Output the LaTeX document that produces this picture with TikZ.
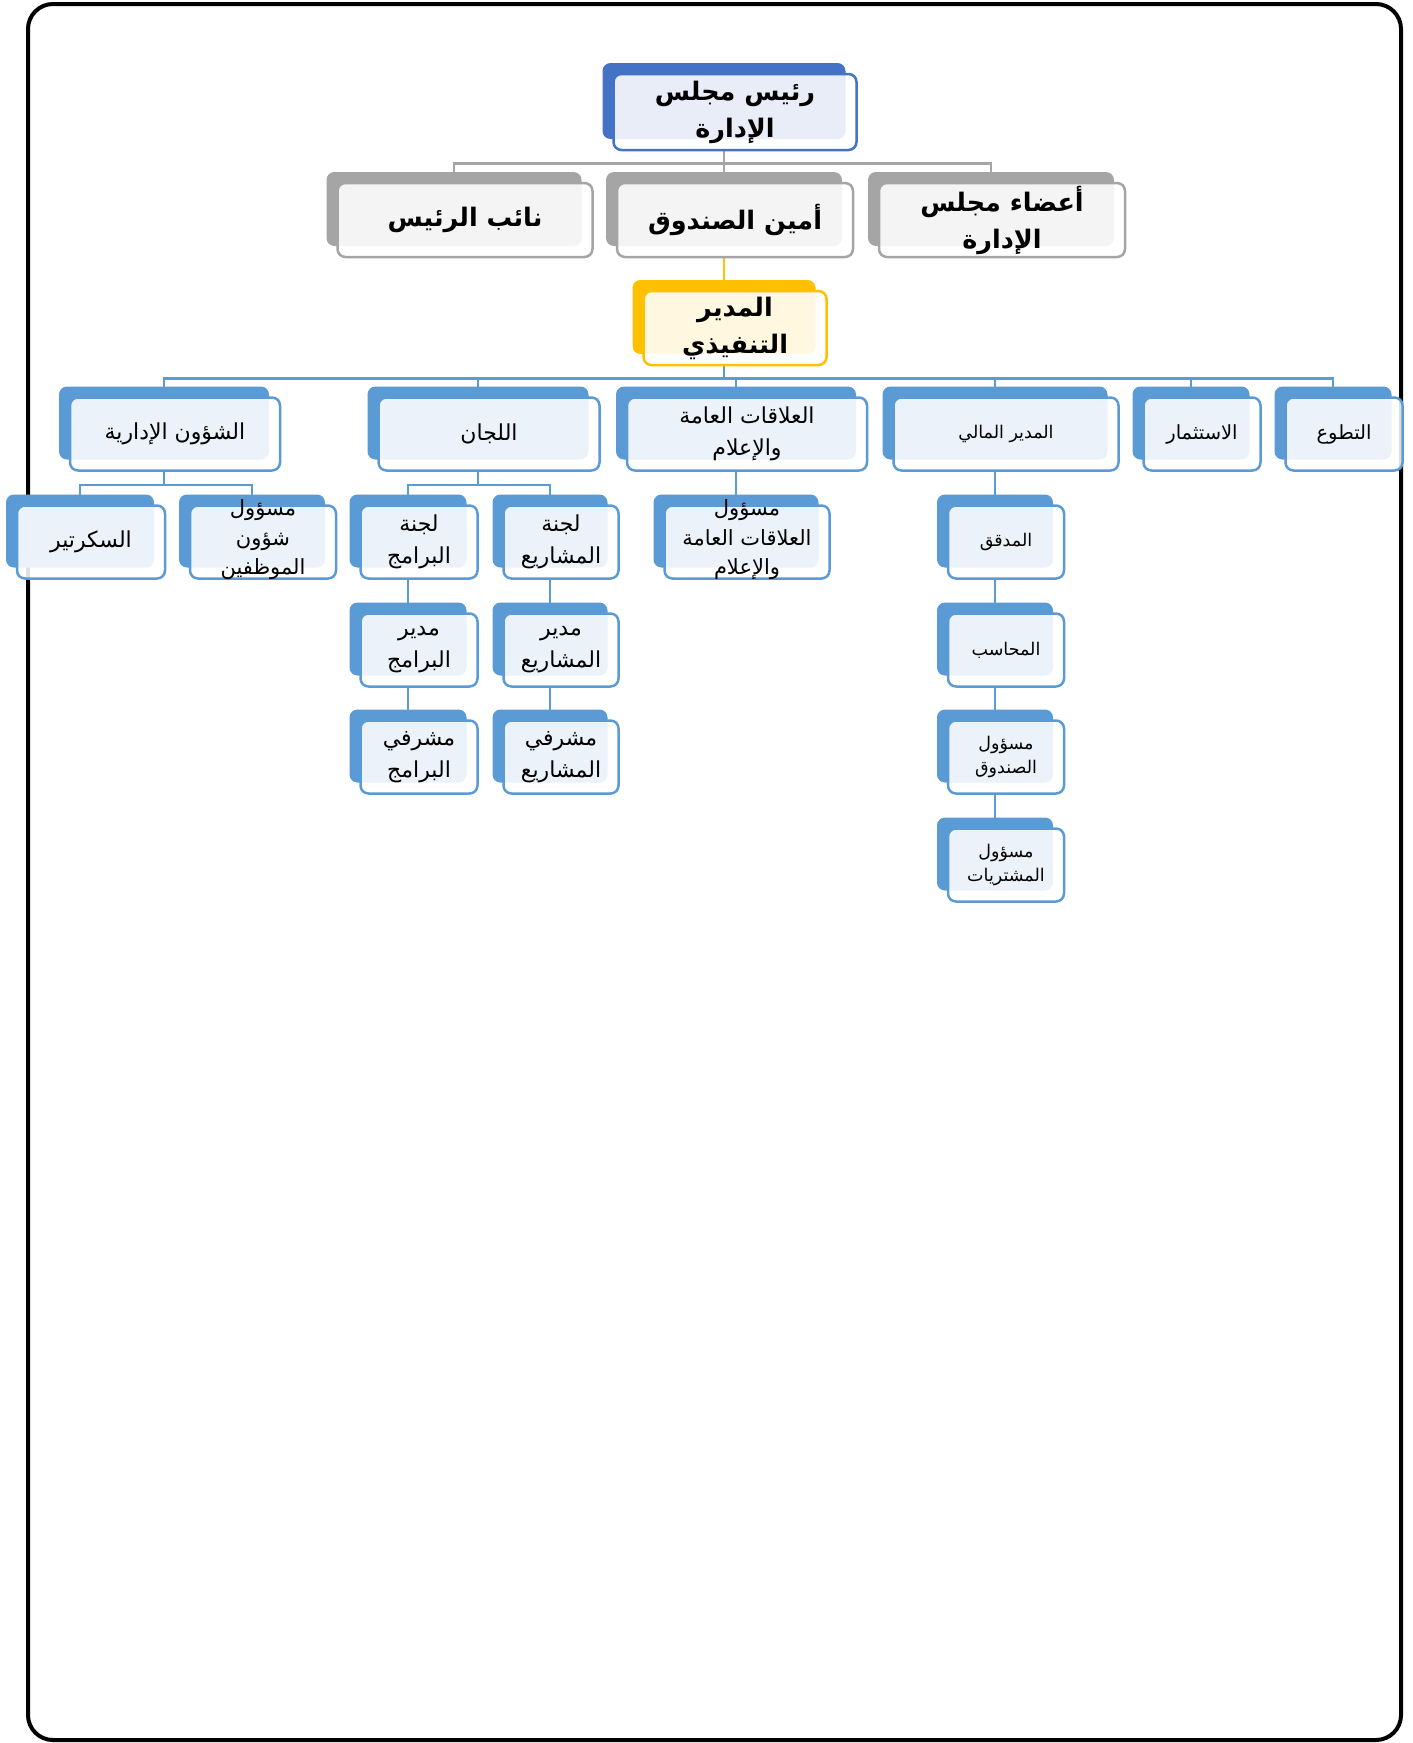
\documentclass[tikz,border=0pt]{standalone}
\usepackage{fontspec}
\usepackage{tikz}
\usetikzlibrary{shadows,backgrounds}
\newfontfamily\arabicfont[Script=Arabic]{DejaVu Sans}
\TeXXeTstate=1
\newcommand{\rl}[1]{\beginR #1\endR}

\definecolor{boardBlue}{HTML}{4472C4}
\definecolor{boardGray}{HTML}{A5A5A5}
\definecolor{ceoGold}{HTML}{FFC000}
\definecolor{unitBlue}{HTML}{5B9BD5}

\tikzset{
  card/.style={draw=#1, line width=2.5pt, rounded corners=8pt, fill=white,
    fill opacity=0.88, text opacity=1, inner sep=2pt,
    copy shadow={shadow xshift=-11pt, shadow yshift=11pt, fill=#1, draw=none, fill opacity=1}},
  card/.default=unitBlue,
  bigtext/.style={font=\arabicfont\bfseries\fontsize{25.5}{37}\selectfont},
  midtext/.style={font=\arabicfont\fontsize{22}{32}\selectfont},
  smalltext/.style={font=\arabicfont\fontsize{17.5}{24.5}\selectfont},
  link/.style={draw=#1, line width=2.5pt},
  link/.default=unitBlue,
}

\begin{document}
\begin{tikzpicture}[x=1pt, y=-1pt, every node/.style={align=center}]
    \useasboundingbox (0,0) rectangle (1413,1743);
    \draw[line width=4pt, rounded corners=25pt] (28,4) rectangle (1401,1740);

    % board
    \node[card=boardBlue, bigtext, minimum width=243pt, minimum height=76pt] (chair) at (735,112)
        {\rl{رئيس مجلس}\\\rl{الإدارة}};
    \node[card=boardGray, bigtext, minimum width=255pt, minimum height=74pt] (vice) at (465,220)
        {\rl{نائب الرئيس}};
    \node[card=boardGray, bigtext, minimum width=236pt, minimum height=74pt] (treasurer) at (735,220)
        {\rl{أمين الصندوق}};
    \node[card=boardGray, bigtext, minimum width=246pt, minimum height=74pt] (members) at (1002,220)
        {\rl{أعضاء مجلس}\\\rl{الإدارة}};
    \node[card=ceoGold, bigtext, minimum width=183pt, minimum height=74pt] (ceo) at (735,328)
        {\rl{المدير}\\\rl{التنفيذي}};

    % departments
    \node[card, midtext, minimum width=210pt, minimum height=73pt] (admin) at (175,434)
        {\rl{الشؤون الإدارية}};
    \node[card, midtext, minimum width=221pt, minimum height=73pt] (committees) at (489,434)
        {\rl{اللجان}};
    \node[card, midtext, minimum width=240pt, minimum height=73pt] (relations) at (747,434)
        {\rl{العلاقات العامة}\\\rl{والإعلام}};
    \node[card, smalltext, minimum width=225pt, minimum height=73pt] (finance) at (1006,434)
        {\rl{المدير المالي}};
    \node[card, smalltext, font=\arabicfont\fontsize{19.5}{26}\selectfont, minimum width=117pt, minimum height=73pt] (invest) at (1202,434)
        {\rl{الاستثمار}};
    \node[card, smalltext, font=\arabicfont\fontsize{19.5}{26}\selectfont, minimum width=117pt, minimum height=73pt] (volunteer) at (1344,434)
        {\rl{التطوع}};

    % staff
    \node[card, midtext, minimum width=148pt, minimum height=73pt] (secretary) at (91,542)
        {\rl{السكرتير}};
    \node[card, minimum width=146pt, minimum height=73pt] (staff) at (263,542) {};
    \node[midtext, font=\arabicfont\fontsize{21}{29.5}\selectfont] (staffText) at (263,540)
        {\rl{مسؤول}\\\rl{شؤون}\\\rl{الموظفين}};
    \node[card, midtext, minimum width=117pt, minimum height=73pt] (progCom) at (419,542)
        {\rl{لجنة}\\\rl{البرامج}};
    \node[card, midtext, minimum width=115pt, minimum height=73pt] (projCom) at (561,542)
        {\rl{لجنة}\\\rl{المشاريع}};
    \node[card, minimum width=165pt, minimum height=73pt] (prOfficer) at (747,542) {};
    \node[font=\arabicfont\fontsize{21}{29.5}\selectfont] (prText) at (747,540)
        {\rl{مسؤول}\\\rl{العلاقات العامة}\\\rl{والإعلام}};
    \node[card, smalltext, minimum width=116pt, minimum height=73pt] (auditor) at (1006,542)
        {\rl{المدقق}};

    \node[card, midtext, minimum width=117pt, minimum height=73pt] (progMgr) at (419,650)
        {\rl{مدير}\\\rl{البرامج}};
    \node[card, midtext, minimum width=115pt, minimum height=73pt] (projMgr) at (561,650)
        {\rl{مدير}\\\rl{المشاريع}};
    \node[card, smalltext, minimum width=116pt, minimum height=73pt] (accountant) at (1006,650)
        {\rl{المحاسب}};

    \node[card, midtext, minimum width=117pt, minimum height=73pt] (progSup) at (419,757)
        {\rl{مشرفي}\\\rl{البرامج}};
    \node[card, midtext, minimum width=115pt, minimum height=73pt] (projSup) at (561,757)
        {\rl{مشرفي}\\\rl{المشاريع}};
    \node[card, smalltext, minimum width=116pt, minimum height=73pt] (cashier) at (1006,757)
        {\rl{مسؤول}\\\rl{الصندوق}};

    \node[card, smalltext, minimum width=116pt, minimum height=73pt] (purchasing) at (1006,865)
        {\rl{مسؤول}\\\rl{المشتريات}};

    % connectors
    \begin{scope}[on background layer]
        \draw[link=boardGray] ([xshift=-11pt]chair.south) -- ++(0,12) coordinate (boardBus);
        \draw[link=boardGray] ([xshift=-11pt]vice.north) |- (boardBus) -| ([xshift=-11pt]members.north);
        \draw[link=boardGray] (boardBus) -- ([xshift=-11pt]treasurer.north);
        \draw[link=ceoGold] ([xshift=-11pt]treasurer.south) -- ([xshift=-11pt]ceo.north);

        \draw[link] ([xshift=-11pt]ceo.south) -- ++(0,12) coordinate (mainBus);
        \draw[link] ([xshift=-11pt]admin.north) |- (mainBus) -| ([xshift=-11pt]volunteer.north);
        \draw[link] ([xshift=-11pt]committees.north) |- (mainBus);
        \draw[link] ([xshift=-11pt]relations.north) |- (mainBus);
        \draw[link] ([xshift=-11pt]finance.north) |- (mainBus);
        \draw[link] ([xshift=-11pt]invest.north) |- (mainBus);

        \draw[link] ([xshift=-11pt]admin.south) -- ++(0,13) coordinate (adminBus);
        \draw[link] ([xshift=-11pt]secretary.north) |- (adminBus) -| ([xshift=-11pt]staff.north);
        \draw[link] ([xshift=-11pt]committees.south) -- ++(0,13) coordinate (comBus);
        \draw[link] ([xshift=-11pt]progCom.north) |- (comBus) -| ([xshift=-11pt]projCom.north);
        \draw[link] ([xshift=-11pt]relations.south) -- ([xshift=-11pt]prOfficer.north);
        \draw[link] ([xshift=-11pt]finance.south) -- ([xshift=-11pt]auditor.north);

        \draw[link] ([xshift=-11pt]progCom.south) -- ([xshift=-11pt]progMgr.north);
        \draw[link] ([xshift=-11pt]progMgr.south) -- ([xshift=-11pt]progSup.north);
        \draw[link] ([xshift=-11pt]projCom.south) -- ([xshift=-11pt]projMgr.north);
        \draw[link] ([xshift=-11pt]projMgr.south) -- ([xshift=-11pt]projSup.north);
        \draw[link] ([xshift=-11pt]auditor.south) -- ([xshift=-11pt]accountant.north);
        \draw[link] ([xshift=-11pt]accountant.south) -- ([xshift=-11pt]cashier.north);
        \draw[link] ([xshift=-11pt]cashier.south) -- ([xshift=-11pt]purchasing.north);
    \end{scope}
\end{tikzpicture}
\end{document}
